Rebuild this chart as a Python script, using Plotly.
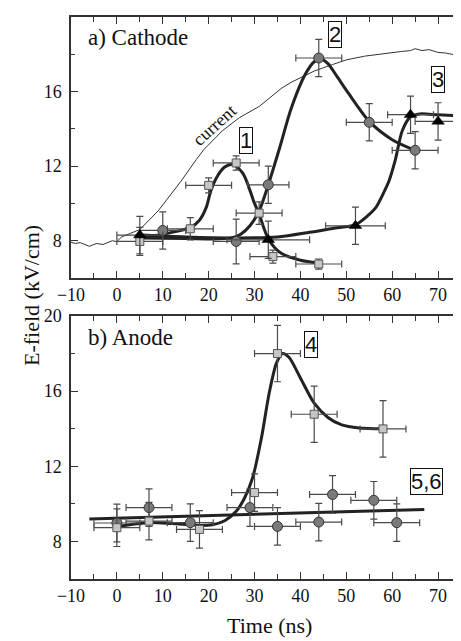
import plotly.graph_objects as go
from plotly.subplots import make_subplots

# ---------------- data: panel a) Cathode ----------------
cur_t = [-10.5, -9, -8, -7, -6, -4.5, -3, -2.3, -1, 0, 1, 3, 5, 7, 9, 11.5, 14, 17.3, 19, 21, 23, 26.7,
         28.8, 31, 33, 36, 38, 40.4, 43, 47, 50, 54, 57, 59.3, 62, 64, 65, 66.5, 68, 70, 71.6, 73, 74.5, 75.5]
cur_e = [7.95, 7.85, 7.9, 7.8, 7.7, 7.85, 7.8, 7.87, 8.0, 7.95, 8.2, 8.4, 8.6, 9.1, 9.6, 10.4, 11.2, 12.35,
         12.9, 13.4, 13.9, 14.6, 14.9, 15.2, 15.6, 16.2, 16.5, 16.8, 17.1, 17.45, 17.7, 17.9, 18.0, 18.1,
         18.15, 18.2, 18.3, 18.2, 18.25, 18.1, 18.07, 18.0, 17.93, 17.95]

a1_t = [5, 16, 20, 26, 31, 34, 44]
a1_e = [7.96, 8.64, 10.97, 12.17, 9.48, 7.15, 6.75]
a1_ex = [5, 5, 5, 5, 5, 5, 5]
a1_ey = [0.75, 0.6, 0.4, 0.38, 0.6, 0.35, 0.27]
fit1_t = [5, 10, 16, 18, 19.5, 20.5, 22, 23.5, 25.3, 27.5, 29, 30, 31, 32, 33, 34.5, 36, 40, 44]
fit1_e = [8.15, 8.35, 8.7, 9.1, 9.8, 10.7, 11.5, 11.95, 12.1, 11.6, 10.7, 10.0, 9.45, 8.7, 8.1, 7.6, 7.3, 6.95, 6.8]

a2_t = [10, 26, 33, 44, 55, 65]
a2_e = [8.55, 7.96, 11.0, 17.8, 14.35, 12.85]
a2_ex = [5, 5, 4.5, 5, 5, 5]
a2_ey = [1.0, 1.2, 1.0, 1.0, 1.0, 1.0]
fit2_t = [5, 15, 22, 25, 27, 29, 31, 33, 35.5, 38, 41, 43, 44.5, 46, 48, 50.5, 55, 60, 65]
fit2_e = [8.15, 8.12, 8.1, 8.15, 8.35, 8.8, 9.6, 11.0, 13.0, 15.1, 16.9, 17.6, 17.75, 17.5, 16.8, 15.9, 14.4, 13.42, 12.85]

a3_t = [5, 33, 52, 64, 70]
a3_e = [8.3, 8.05, 8.8, 14.76, 14.4]
a3_ex = [5, 9, 6.5, 5, 5]
a3_ey = [1.0, 1.0, 1.0, 1.0, 1.0]
fit3_t = [5, 15, 25, 35, 42, 48, 52, 54.5, 56.5, 58, 59.3, 60.7, 62.2, 64, 66, 70, 75]
fit3_e = [8.3, 8.2, 8.15, 8.2, 8.45, 8.7, 8.85, 9.3, 9.8, 10.5, 11.2, 12.35, 13.9, 14.65, 14.8, 14.75, 14.7]

# ---------------- data: panel b) Anode ----------------
b4_t = [0, 7, 18, 30, 35, 43, 58]
b4_e = [8.73, 9.08, 8.64, 10.6, 18.0, 14.77, 13.99]
b4_ex = [5, 5, 5, 5, 5, 5, 5]
b4_ey = [1.0, 1.0, 1.0, 1.0, 1.5, 1.5, 1.5]
fit4_t = [0, 7, 12, 18, 21, 23.5, 26, 27.8, 29.6, 31.5, 33.2, 34.8, 36.1, 37.5, 40, 43, 46, 49, 52.8, 58]
fit4_e = [8.8, 9.0, 8.95, 8.85, 8.9, 9.1, 9.6, 10.3, 11.4, 13.5, 15.9, 17.5, 18.0, 17.8, 16.7, 15.36, 14.6, 14.2, 14.04, 14.0]

b56_t = [0, 7, 16, 29, 35, 44, 47, 56, 61]
b56_e = [8.98, 9.8, 9.0, 9.8, 8.8, 9.03, 10.5, 10.19, 9.0]
b56_ex = [5, 5, 5, 5, 5, 5, 5, 5, 5]
b56_ey = [1.0, 1.0, 1.0, 1.0, 1.0, 1.0, 1.0, 1.0, 1.0]
fit56_t = [-6, 67]
fit56_e = [9.2, 9.7]

x_ticks = [-10, 0, 10, 20, 30, 40, 50, 60, 70]
y_ticks = [8, 12, 16, 20]

# ---------------- styles ----------------
SERIF = "Liberation Serif, Times New Roman, serif"
SANS = "Liberation Sans, Arial, sans-serif"
CURVE = dict(color="#222222", width=3, shape="spline", smoothing=0.8)
ERR = dict(color="#4a4a4a", thickness=1.2, width=3.5)
SQ = dict(symbol="square", size=8, color="#c6c6c6", line=dict(color="#555555", width=1))
CI = dict(symbol="circle", size=10, color="#7a7a7a", line=dict(color="#333333", width=1))
TR = dict(symbol="triangle-up", size=11, color="#000000", line=dict(color="#000000", width=0.5))

fig = make_subplots(rows=2, cols=1, vertical_spacing=0.0)


def add_curve(t, e, row):
    fig.add_trace(go.Scatter(x=t, y=e, mode="lines", line=CURVE, hoverinfo="skip"), row=row, col=1)


def add_pts(t, e, ex, ey, marker, row):
    fig.add_trace(go.Scatter(x=t, y=e, mode="markers", marker=marker,
                             error_x=dict(type="data", array=ex, **ERR),
                             error_y=dict(type="data", array=ey, **ERR)), row=row, col=1)


fig.add_trace(go.Scatter(x=cur_t, y=cur_e, mode="lines", line=dict(color="#333333", width=1)), row=1, col=1)
add_curve(fit1_t, fit1_e, 1)
add_curve(fit2_t, fit2_e, 1)
add_curve(fit3_t, fit3_e, 1)
add_pts(a1_t, a1_e, a1_ex, a1_ey, SQ, 1)
add_pts(a2_t, a2_e, a2_ex, a2_ey, CI, 1)
add_pts(a3_t, a3_e, a3_ex, a3_ey, TR, 1)

add_curve(fit4_t, fit4_e, 2)
fig.add_trace(go.Scatter(x=fit56_t, y=fit56_e, mode="lines",
                         line=dict(color="#222222", width=3)), row=2, col=1)
add_pts(b56_t, b56_e, b56_ex, b56_ey, CI, 2)
add_pts(b4_t, b4_e, b4_ex, b4_ey, SQ, 2)

axis_common = dict(showline=True, linewidth=1.5, linecolor="#333333", showgrid=False, zeroline=False,
                   ticks="inside", tickcolor="#333333", tickwidth=1.2,
                   tickfont=dict(family=SERIF, size=18, color="#111111"))
xcfg = dict(axis_common, range=[-10, 75], tickvals=x_ticks, ticklen=7, mirror="ticks",
            minor=dict(ticks="inside", dtick=5, tick0=0, ticklen=5, tickcolor="#333333", tickwidth=1.2))
ycfg = dict(axis_common, range=[6, 20], tickvals=y_ticks, ticklen=7, ticklabelstandoff=4,
            minor=dict(ticks="inside", dtick=2, tick0=0, ticklen=4, tickcolor="#333333", tickwidth=1.2))

# page body has an 8px default margin, so the figure is 8px smaller than the window
fig.update_layout(
    width=453, height=633, showlegend=False,
    font=dict(family=SERIF),
    plot_bgcolor="white", paper_bgcolor="white",
    margin=dict(l=63, r=0, t=9, b=62),
    xaxis=dict(xcfg, domain=[0, 1], anchor="y"),
    yaxis=dict(ycfg, domain=[0.5356, 1], anchor="x"),
    xaxis2=dict(xcfg, domain=[0, 1], anchor="y2"),
    yaxis2=dict(ycfg, domain=[0, 0.468], anchor="x2"),
)

ann = []
ann.append(dict(text="a) Cathode", x=-6.8, y=18.9, xref="x", yref="y", xanchor="left", yanchor="middle",
                showarrow=False, font=dict(family=SERIF, size=23, color="#111111")))
ann.append(dict(text="b) Anode", x=-6.7, y=18.83, xref="x2", yref="y2", xanchor="left", yanchor="middle",
                showarrow=False, font=dict(family=SERIF, size=23, color="#111111")))
ann.append(dict(text="current", x=21.3, y=14.2, xref="x", yref="y", textangle=-42, showarrow=False,
                xanchor="center", yanchor="middle",
                font=dict(family=SERIF, size=18, color="#111111")))
for txt, x, y, xr, yr in [("1", 28.2, 13.4, "x", "y"), ("2", 47.5, 19.06, "x", "y"), ("3", 70, 16.64, "x", "y"),
                          ("4", 42.2, 18.5, "x2", "y2"), ("5,6", 67.5, 11.18, "x2", "y2")]:
    ann.append(dict(text=txt, x=x, y=y, xref=xr, yref=yr, showarrow=False, bordercolor="#111111",
                    xanchor="center", yanchor="middle",
                    borderwidth=1, borderpad=0, bgcolor="white",
                    font=dict(family=SANS, size=22, color="#111111")))
ann.append(dict(text="E-field (kV/cm)", x=-0.103, y=0.505, xref="paper", yref="paper", textangle=-90,
                xanchor="center", yanchor="middle",
                showarrow=False, font=dict(family=SERIF, size=22, color="#111111")))
ann.append(dict(text="Time (ns)", x=0.51, y=-0.082, xref="paper", yref="paper", showarrow=False,
                xanchor="center", yanchor="middle",
                font=dict(family=SERIF, size=22, color="#111111")))
fig.update_layout(annotations=ann)

fig.write_html("out.html")
